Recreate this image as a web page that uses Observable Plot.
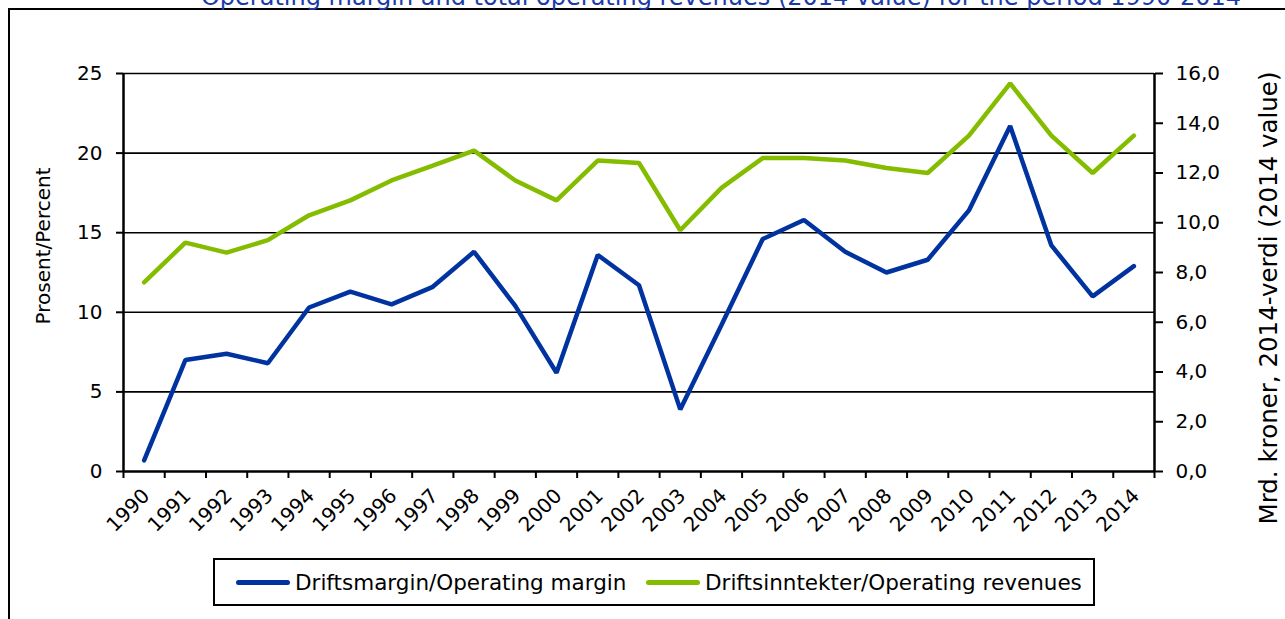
<!DOCTYPE html>
<html>
<head>
<meta charset="utf-8">
<script src="https://cdn.jsdelivr.net/npm/d3@7"></script>
<script src="https://cdn.jsdelivr.net/npm/@observablehq/plot@0.6"></script>
<style>
  body { margin: 0; background: white; }
  #wrap { position: relative; width: 1285px; height: 619px; overflow: hidden; font-family: "DejaVu Sans", sans-serif; }
  #title { position: absolute; left: 0; width: 1442px; text-align: center; top: -15px; font-size: 24px; line-height: 24px; color: #1a3caa; white-space: nowrap; }
  #frame { position: absolute; left: 8px; top: 8px; width: 1300px; height: 700px; border: 2px solid black; box-sizing: border-box; }
  #chart { position: absolute; left: 0; top: 0; }
  .ytitle { position: absolute; color: black; white-space: nowrap; transform: translate(-50%, -50%) rotate(-90deg); }
  #legend { position: absolute; left: 213px; top: 558px; width: 882px; height: 48px; border: 2px solid black; box-sizing: border-box; background: white; font-size: 21.5px; }
  .item { position: absolute; top: 0; height: 44px; display: flex; align-items: center; white-space: nowrap; }
  .sw { display: inline-block; width: 54px; height: 5px; border-radius: 3px; margin-right: 5px; }
</style>
</head>
<body>
<div id="wrap">
  <div id="frame"></div>
  <div id="title">Operating margin and total operating revenues (2014 value) for the period 1990-2014</div>
  <div id="chart"></div>
  <div class="ytitle" style="left:43px; top:246px; font-size:20px;">Prosent/Percent</div>
  <div class="ytitle" style="left:1268px; top:298px; font-size:24.5px;">Mrd. kroner, 2014-verdi (2014 value)</div>
  <div id="legend"></div>
</div>
<script>
const years = [1990,1991,1992,1993,1994,1995,1996,1997,1998,1999,2000,2001,2002,2003,2004,2005,2006,2007,2008,2009,2010,2011,2012,2013,2014];
const margin = [0.7,7.0,7.4,6.8,10.3,11.3,10.5,11.6,13.8,10.4,6.2,13.6,11.7,3.9,9.2,14.6,15.8,13.8,12.5,13.3,16.4,21.7,14.2,11.0,12.9];
const revenues = [7.6,9.2,8.8,9.3,10.3,10.9,11.7,12.3,12.9,11.7,10.9,12.5,12.4,9.7,11.4,12.6,12.6,12.5,12.2,12.0,13.5,15.6,13.5,12.0,13.5];
const leftTicks = [0,5,10,15,20,25];
const gridTicks = [5,10,15,20,25];
const rightTicks = [0,2,4,6,8,10,12,14,16];
const seriesNames = ["Driftsmargin/Operating margin", "Driftsinntekter/Operating revenues"];
const colors = ["#0033a0", "#84bd00"];

const leftMax = 25, rightMax = 16;
const k = leftMax / rightMax;

const data1 = years.map((y, i) => ({year: y, v: margin[i]}));
const data2 = years.map((y, i) => ({year: y, v: revenues[i] * k}));
const x0 = years[0] - 0.5, x1 = years[years.length - 1] + 0.5;
const bounds = [...years.map(y => y - 0.5), x1];

const fmt = v => v.toFixed(1).replace(".", ",");

const chart = Plot.plot({
  width: 1285,
  height: 619,
  marginLeft: 123,
  marginRight: 131,
  marginTop: 73,
  marginBottom: 148,
  x: {type: "linear", domain: [x0, x1]},
  y: {domain: [0, leftMax]},
  style: {fontFamily: "DejaVu Sans, sans-serif", fontSize: "20px", color: "black", background: "transparent", overflow: "visible"},
  marks: [
    Plot.ruleY(gridTicks, {stroke: "black", strokeWidth: 1.6}),
    Plot.axisY({anchor: "left", ticks: leftTicks, tickSize: 7, tickPadding: 14, strokeWidth: 2, label: null, tickFormat: d => String(d)}),
    Plot.axisY({anchor: "right", ticks: rightTicks.map(v => v * k), tickSize: 8, tickPadding: 13, strokeWidth: 2, label: null, tickFormat: d => fmt(d / k)}),
    Plot.axisX({ticks: bounds, tickSize: 7, strokeWidth: 2, tickFormat: () => "", label: null}),
    Plot.axisX({ticks: years, tickSize: 0, tickPadding: 21, tickRotate: -45, tickFormat: d => String(d), label: null, dx: 2}),
    Plot.ruleX([x0, x1], {stroke: "black", strokeWidth: 2.5}),
    Plot.ruleY([0], {stroke: "black", strokeWidth: 2.5}),
    Plot.line(data2, {x: "year", y: "v", stroke: colors[1], strokeWidth: 4.5, strokeLinejoin: "miter"}),
    Plot.line(data1, {x: "year", y: "v", stroke: colors[0], strokeWidth: 4.5, strokeLinejoin: "miter"})
  ]
});
document.getElementById("chart").appendChild(chart);

const legend = document.getElementById("legend");
const itemLefts = [21, 431];
seriesNames.forEach((name, i) => {
  const it = document.createElement("div");
  it.className = "item";
  it.style.left = itemLefts[i] + "px";
  it.innerHTML = `<span class="sw" style="background:${colors[i]}"></span><span>${name}</span>`;
  legend.appendChild(it);
});
</script>
</body>
</html>
